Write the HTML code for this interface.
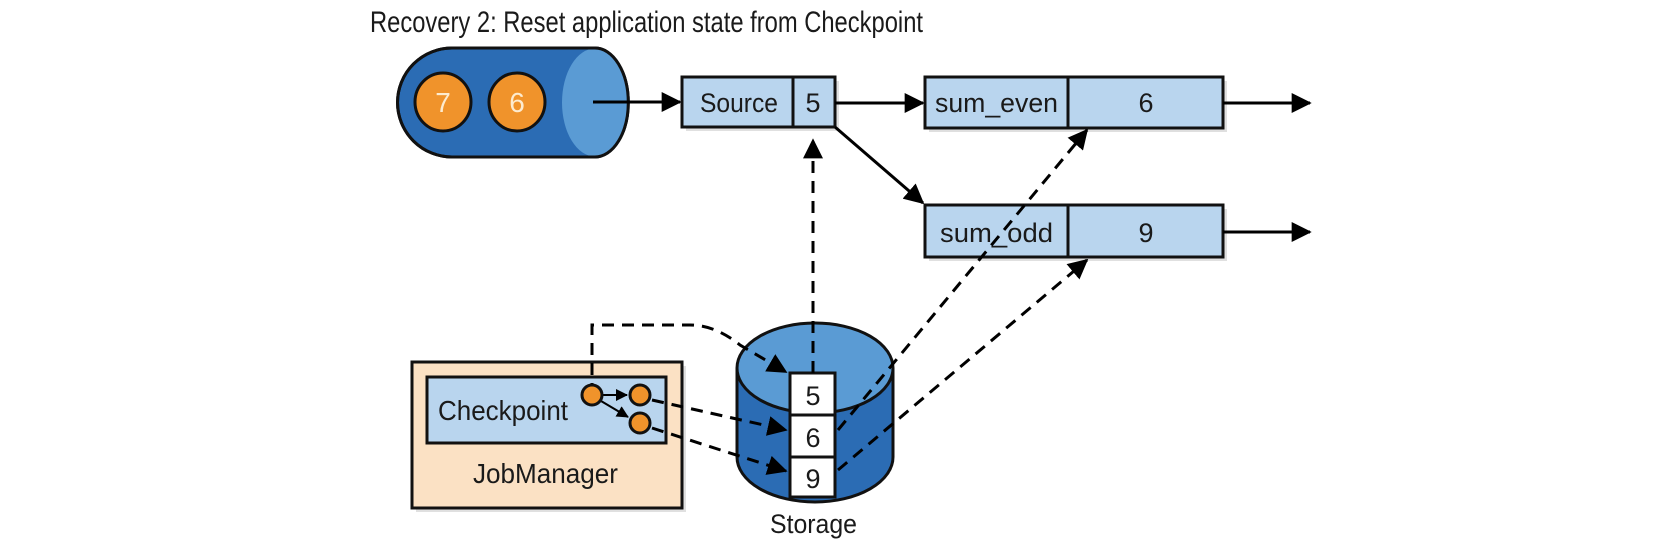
<!DOCTYPE html>
<html><head><meta charset="utf-8"><style>
html,body{margin:0;padding:0;background:#fff;}
svg{display:block;}
text{font-family:"Liberation Sans",sans-serif;fill:#1a1a1a;}
</style></head><body>
<svg width="1678" height="550" viewBox="0 0 1678 550" xmlns="http://www.w3.org/2000/svg">
<defs>
<marker id="ah" viewBox="0 0 10 10" refX="9" refY="5" markerWidth="8" markerHeight="8" markerUnits="userSpaceOnUse" orient="auto">
</marker>
<marker id="a" viewBox="0 0 12 12" refX="11" refY="6" markerWidth="20" markerHeight="20" markerUnits="userSpaceOnUse" orient="auto"><path d="M0,0 L12,6 L0,12 z" fill="#000"/></marker>
<marker id="as" viewBox="0 0 12 12" refX="11" refY="6" markerWidth="12" markerHeight="12" markerUnits="userSpaceOnUse" orient="auto"><path d="M0,0 L12,6 L0,12 z" fill="#000"/></marker>
</defs>

<text x="370" y="32" font-size="30" textLength="553" lengthAdjust="spacingAndGlyphs">Recovery 2: Reset application state from Checkpoint</text>

<!-- queue -->
<path d="M452,48 H595 A33,54 0 0 1 595,157 H452 A54,54 0 0 1 452,48 z" fill="#2b6cb4" stroke="#111" stroke-width="3"/>
<ellipse cx="595" cy="102.5" rx="33" ry="54" fill="#5a9bd4"/>
<path d="M452,48 H595 A33,54 0 0 1 595,157 H452 A54,54 0 0 1 452,48 z" fill="none" stroke="#111" stroke-width="3"/>
<ellipse cx="443" cy="102" rx="28" ry="29" fill="#f0932b" stroke="#111" stroke-width="3"/>
<ellipse cx="517" cy="102" rx="28" ry="29" fill="#f0932b" stroke="#111" stroke-width="3"/>
<text x="443" y="112" font-size="28" text-anchor="middle" style="fill:#fdebcf">7</text>
<text x="517" y="112" font-size="28" text-anchor="middle" style="fill:#fdebcf">6</text>
<line x1="593" y1="102" x2="680" y2="102" stroke="#000" stroke-width="3" marker-end="url(#a)"/>

<!-- shadows -->
<g fill="#000" opacity="0.12">
<rect x="686" y="81" width="153" height="50"/>
<rect x="929" y="81" width="298" height="51"/>
<rect x="929" y="209" width="298" height="52"/>
<rect x="416" y="366" width="270" height="146"/>
</g>

<!-- source -->
<rect x="682" y="77" width="153" height="50" fill="#b9d5ee" stroke="#111" stroke-width="3"/>
<line x1="793" y1="77" x2="793" y2="127" stroke="#111" stroke-width="3"/>
<text x="700" y="112" font-size="27" textLength="78" lengthAdjust="spacingAndGlyphs">Source</text>
<text x="813" y="112" font-size="27" text-anchor="middle">5</text>

<!-- sum_even -->
<rect x="925" y="77" width="298" height="51" fill="#b9d5ee" stroke="#111" stroke-width="3"/>
<line x1="1068" y1="77" x2="1068" y2="128" stroke="#111" stroke-width="3"/>
<text x="935" y="112" font-size="27" textLength="123" lengthAdjust="spacingAndGlyphs">sum_even</text>
<text x="1146" y="112" font-size="27" text-anchor="middle">6</text>

<!-- sum_odd -->
<rect x="925" y="205" width="298" height="52" fill="#b9d5ee" stroke="#111" stroke-width="3"/>
<line x1="1068" y1="205" x2="1068" y2="257" stroke="#111" stroke-width="3"/>
<text x="940" y="242" font-size="27" textLength="113" lengthAdjust="spacingAndGlyphs">sum_odd</text>
<text x="1146" y="242" font-size="27" text-anchor="middle">9</text>

<!-- solid arrows -->
<line x1="835" y1="103" x2="923" y2="103" stroke="#000" stroke-width="3" marker-end="url(#a)"/>
<line x1="835" y1="127" x2="923" y2="203" stroke="#000" stroke-width="3" marker-end="url(#a)"/>
<line x1="1223" y1="103" x2="1310" y2="103" stroke="#000" stroke-width="3" marker-end="url(#a)"/>
<line x1="1223" y1="232" x2="1310" y2="232" stroke="#000" stroke-width="3" marker-end="url(#a)"/>

<!-- JobManager -->
<rect x="412" y="362" width="270" height="146" fill="#fbe1c4" stroke="#111" stroke-width="3"/>
<rect x="427" y="377" width="239" height="66" fill="#b9d5ee" stroke="#111" stroke-width="3"/>
<text x="438" y="420" font-size="28" textLength="130" lengthAdjust="spacingAndGlyphs">Checkpoint</text>
<text x="473" y="483" font-size="28" textLength="145" lengthAdjust="spacingAndGlyphs">JobManager</text>

<!-- storage -->
<path d="M737,368 V457 A78,45 0 0 0 893,457 V368" fill="#2b6cb4" stroke="#111" stroke-width="3"/>
<ellipse cx="815" cy="368" rx="78" ry="45" fill="#5a9bd4" stroke="#111" stroke-width="3"/>
<path d="M737,368 A78,45 0 0 0 893,368" fill="none" stroke="#2b6cb4" stroke-width="0"/>
<rect x="790" y="373" width="45" height="42" fill="#fff" stroke="#111" stroke-width="3"/>
<rect x="790" y="415" width="45" height="42" fill="#fff" stroke="#111" stroke-width="3"/>
<rect x="790" y="457" width="45" height="40" fill="#fff" stroke="#111" stroke-width="3"/>
<text x="813" y="405" font-size="27" text-anchor="middle">5</text>
<text x="813" y="447" font-size="27" text-anchor="middle">6</text>
<text x="813" y="488" font-size="27" text-anchor="middle">9</text>
<text x="770" y="533" font-size="27" textLength="87" lengthAdjust="spacingAndGlyphs">Storage</text>

<!-- dashed -->
<g fill="none" stroke="#000" stroke-width="3" stroke-dasharray="12,8">
<line x1="813" y1="373" x2="813" y2="140" marker-end="url(#a)"/>
<path d="M592,395 V325 H690 Q715,325 740,345 L786,372" marker-end="url(#a)"/>
<line x1="652" y1="400" x2="786" y2="430" marker-end="url(#a)"/>
<line x1="652" y1="428" x2="786" y2="471" marker-end="url(#a)"/>
<line x1="838" y1="430" x2="1087" y2="130" marker-end="url(#a)"/>
<line x1="838" y1="470" x2="1087" y2="260" marker-end="url(#a)"/>
</g>

<!-- checkpoint circles -->
<line x1="603" y1="395" x2="627" y2="395" stroke="#000" stroke-width="2" marker-end="url(#as)"/>
<line x1="601" y1="401" x2="628" y2="417" stroke="#000" stroke-width="2" marker-end="url(#as)"/>
<circle cx="592" cy="395" r="10" fill="#f0932b" stroke="#111" stroke-width="3"/>
<circle cx="640" cy="395" r="10" fill="#f0932b" stroke="#111" stroke-width="3"/>
<circle cx="640" cy="423" r="10" fill="#f0932b" stroke="#111" stroke-width="3"/>
</svg>
</body></html>
